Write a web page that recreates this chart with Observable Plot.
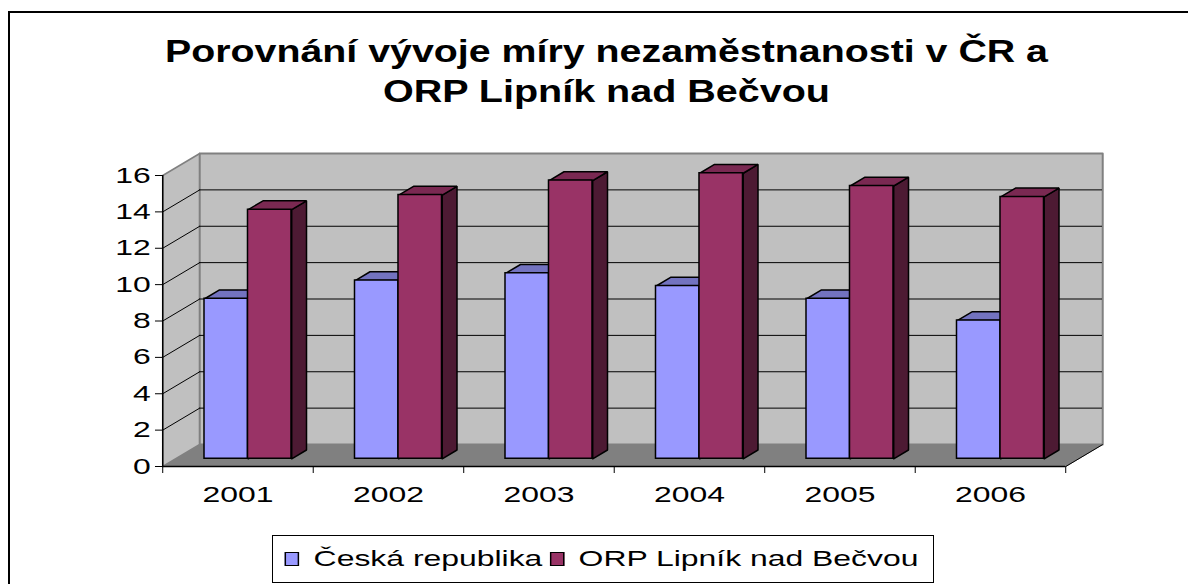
<!DOCTYPE html>
<html>
<head>
<meta charset="utf-8">
<script src="https://cdn.jsdelivr.net/npm/d3@7"></script>
<script src="https://cdn.jsdelivr.net/npm/@observablehq/plot@0.6"></script>
<style>
  html, body { margin: 0; padding: 0; background: #fff; }
  #page { position: relative; width: 1188px; height: 584px; overflow: hidden; background: #fff;
          font-family: 'Liberation Sans', Arial, sans-serif; }
  #frame { position: absolute; left: 8px; top: 11px; width: 1300px; height: 700px;
           border-left: 2px solid #000; border-top: 2px solid #000; box-sizing: border-box; }
  #title { position: absolute; left: 0; top: 0; }
  #chart { position: absolute; left: 0; top: 130px; }
  #legend { position: absolute; left: 272px; top: 535px; width: 662px; height: 48px;
            border: 1px solid #000; background: #fff; box-sizing: border-box; }
  #legend .inner { position: absolute; left: 0; top: 0; height: 46px; display: flex; align-items: center;
                   transform: scaleX(1.45); transform-origin: 0 0; padding-left: 8px; white-space: nowrap;
                   font-size: 22px; color: #000; }
  #legend .sw { width: 8px; height: 12px; border: 1px solid #000; margin-right: 10px; flex: none; }
  #legend .item { display: flex; align-items: center; margin-right: 5px; }
</style>
</head>
<body>
<div id="page">
  <div id="frame"></div>
  <svg id="title" width="1188" height="130"></svg>
  <div id="chart"></div>
  <div id="legend"><div class="inner"></div></div>
</div>
<script>
// ---- data ----
const years = ["2001", "2002", "2003", "2004", "2005", "2006"];
const ceskaRepublika = [8.8, 9.8, 10.2, 9.5, 8.8, 7.6];
const orpLipnik = [13.7, 14.5, 15.3, 15.7, 15.0, 14.4];
const seriesNames = ["Česká republika", "ORP Lipník nad Bečvou"];
const yTicks = [0, 2, 4, 6, 8, 10, 12, 14, 16];
const titleLines = ["Porovnání vývoje míry nezaměstnanosti v ČR a", "ORP Lipník nad Bečvou"];

// ---- styles ----
const frontColors = ["#9999FF", "#993366"];
const topColors = ["#7373C0", "#7A2952"];
const sideColors = ["#4D4D80", "#4D1A33"];

// ---- title ----
const tsvg = d3.select("#title");
const titleGeom = [{x: 165, y: 62, len: 883}, {x: 383, y: 102, len: 447}];
titleLines.forEach((t, i) => {
  tsvg.append("text")
    .attr("x", titleGeom[i].x).attr("y", titleGeom[i].y)
    .attr("textLength", titleGeom[i].len).attr("lengthAdjust", "spacingAndGlyphs")
    .attr("font-family", "'Liberation Sans', Arial, sans-serif")
    .attr("font-weight", "bold").attr("font-size", 31).attr("fill", "#000")
    .text(t);
});

// ---- geometry (3D look) ----
const s = 1.45;                 // horizontal stretch of the whole chart
const W = 1188 / s;
const H = 384;
const unitPx = 150.5;           // px per category (final)
const yPx = (336 - 45) / 16;    // px per value unit
const Dx = 37 / unitPx;         // full depth, x units
const Dy = 22 / yPx;            // full depth, y units
const f0 = 0.35, fb = 0.4;      // bar front depth, bar thickness (fractions of depth)
const g = 0.193, w = 0.289;     // group offset and bar width (category units)

const bars = [];
years.forEach((yr, i) => {
  [ceskaRepublika[i], orpLipnik[i]].forEach((v, k) => {
    const x1 = i + g + k * w + f0 * Dx;
    bars.push({year: yr, k, value: v, x1, x2: x1 + w, y1: f0 * Dy, y2: v + f0 * Dy});
  });
});
const bd = fb * Dx, bdy = fb * Dy;
function topPoly(b) { return [[b.x1, b.y2], [b.x2, b.y2], [b.x2 + bd, b.y2 + bdy], [b.x1 + bd, b.y2 + bdy], [b.x1, b.y2]]; }
function sidePoly(b) { return [[b.x2, b.y1], [b.x2 + bd, b.y1 + bdy], [b.x2 + bd, b.y2 + bdy], [b.x2, b.y2], [b.x2, b.y1]]; }
function polys(k, fn) {
  const out = [];
  bars.filter(b => b.k === k).forEach((b, j) => fn(b).forEach(p => out.push({id: j, x: p[0], y: p[1]})));
  return out;
}
const yMax = yTicks[yTicks.length - 1];
const nCat = years.length;
const leftWall = [[0, 0], [0, yMax], [Dx, yMax + Dy], [Dx, Dy], [0, 0]];
const backWall = [[Dx, Dy], [Dx, yMax + Dy], [nCat + Dx, yMax + Dy], [nCat + Dx, Dy], [Dx, Dy]];
const floor = [[0, 0], [nCat, 0], [nCat + Dx, Dy], [Dx, Dy], [0, 0]];
const inner = yTicks.filter(t => t > 0 && t < yMax);

const marks = [
  Plot.line(floor, {x: d => d[0], y: d => d[1], fill: "#808080", stroke: "#808080", strokeWidth: 1}),
  Plot.line(leftWall, {x: d => d[0], y: d => d[1], fill: "#C0C0C0", stroke: "#808080", strokeWidth: 1.5}),
  Plot.line(backWall, {x: d => d[0], y: d => d[1], fill: "#C0C0C0", stroke: "#808080", strokeWidth: 2}),
  Plot.ruleY(inner, {x1: Dx, x2: nCat + Dx, y: d => d + Dy, stroke: "#000", strokeWidth: 1}),
  Plot.link(inner, {x1: 0, y1: d => d, x2: Dx, y2: d => d + Dy, stroke: "#000", strokeWidth: 1}),
  Plot.link([0], {x1: nCat, y1: 0, x2: nCat + Dx, y2: Dy, stroke: "#000", strokeWidth: 1}),
];
[0, 1].forEach(k => {
  marks.push(
    Plot.line(polys(k, sidePoly), {x: "x", y: "y", z: "id", fill: sideColors[k], stroke: "#000", strokeWidth: 1.5, strokeLinejoin: "miter"}),
    Plot.line(polys(k, topPoly), {x: "x", y: "y", z: "id", fill: topColors[k], stroke: "#000", strokeWidth: 1.5, strokeLinejoin: "miter"}),
    Plot.rect(bars.filter(b => b.k === k), {x1: "x1", x2: "x2", y1: "y1", y2: "y2", fill: frontColors[k], stroke: "#000", strokeWidth: 1.5})
  );
});
marks.push(
  Plot.ruleY([0], {x1: 0, x2: nCat, stroke: "#000", strokeWidth: 1.5}),
  Plot.ruleX([0], {y1: 0, y2: yMax, stroke: "#000", strokeWidth: 1.5}),
  Plot.axisY(yTicks, {tickSize: 7 / s, tickPadding: 5 / s, tickFormat: d => String(d), stroke: "#000", fill: "#000"}),
  Plot.axisX(d3.range(nCat + 1), {tickSize: 7, tickFormat: () => "", stroke: "#000"}),
  Plot.axisX(years.map((_, i) => i + 0.5), {tickSize: 0, tickPadding: 20, tickFormat: d => years[Math.floor(d)], fill: "#000"})
);

const plot = Plot.plot({
  width: W, height: H,
  marginLeft: 162 / s, marginRight: (1188 - 1065) / s, marginTop: 45, marginBottom: 48,
  x: {type: "linear", domain: [0, nCat], axis: null},
  y: {domain: [0, yMax], axis: null},
  style: {fontFamily: "'Liberation Sans', Arial, sans-serif", fontSize: "22px", color: "#000",
          background: "transparent", overflow: "visible"},
  marks
});
plot.setAttribute("width", 1188);
plot.setAttribute("height", H);
plot.setAttribute("preserveAspectRatio", "none");
plot.style.width = "1188px";
plot.style.height = H + "px";
plot.style.maxWidth = "none";
plot.querySelectorAll("path, line, rect").forEach(el => el.setAttribute("vector-effect", "non-scaling-stroke"));
document.getElementById("chart").appendChild(plot);

// ---- legend ----
const leg = d3.select("#legend .inner");
seriesNames.forEach((name, k) => {
  const it = leg.append("div").attr("class", "item");
  it.append("div").attr("class", "sw").style("background", frontColors[k]);
  it.append("span").text(name);
});
</script>
</body>
</html>
